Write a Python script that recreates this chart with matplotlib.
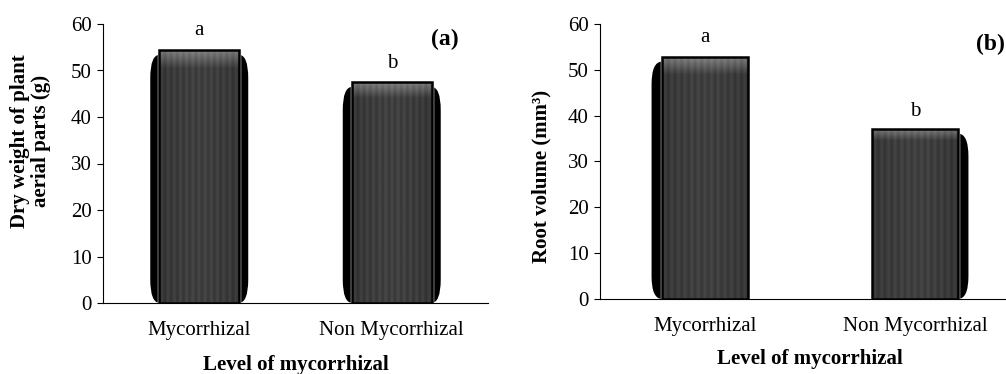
import matplotlib.pyplot as plt
import numpy as np
from matplotlib.patches import FancyBboxPatch

plt.rcParams['font.family'] = ['Liberation Serif', 'DejaVu Serif']

categories = ['Mycorrhizal', 'Non Mycorrhizal']
dry_weight = [54.4, 47.5]
root_volume = [52.8, 37.1]
letters = ['a', 'b']

# bar face: dark grey with a lighter band along the top
rows = np.linspace(0, 1, 200)
band = np.clip(1 - rows / 0.07, 0, 1)
cols = np.linspace(-1, 1, 60)
face = 0.25 + 0.25 * band[:, None] + 0.03 * np.cos(cols * 40)[None, :] - 0.04 * cols[None, :] ** 2


def draw_bars(ax, values, shadow_sides, width=0.41, sh=0.05):
    x = np.arange(len(values))
    for i, v in enumerate(values):
        left, right = shadow_sides[i]
        x0 = x[i] - width / 2 - (sh if left else 0)
        x1 = x[i] + width / 2 + (sh if right else 0)
        shadow = FancyBboxPatch((x0, 0), x1 - x0, v - 1.0,
                                boxstyle='round,pad=0,rounding_size=0.05',
                                mutation_aspect=100, fc='black', ec='none', zorder=2)
        ax.add_patch(shadow)
    bars = ax.bar(x, values, width=width, color='#444444', edgecolor='white', linewidth=2.5, zorder=3)
    for b in bars:
        im = ax.imshow(face, cmap='gray', vmin=0, vmax=1, aspect='auto', zorder=4,
                       extent=[b.get_x(), b.get_x() + b.get_width(), 0, b.get_height()])
        im.set_clip_path(b)
        ax.bar(b.get_x() + b.get_width() / 2, b.get_height(), width=b.get_width(),
               fill=False, edgecolor='black', linewidth=1.8, zorder=5)
    return x


def style(ax):
    ax.set_xlim(-0.5, 1.5)
    ax.set_ylim(0, 60)
    ax.set_yticks(range(0, 61, 10))
    ax.spines['top'].set_visible(False)
    ax.spines['right'].set_visible(False)
    ax.tick_params(axis='y', direction='out', length=4, labelsize=15, pad=4)
    ax.tick_params(axis='x', length=0, labelsize=15, pad=13)
    ax.set_xticks([0, 1])
    ax.set_xticklabels(categories)


fig = plt.figure(figsize=(10.06, 3.74), dpi=100)

ax1 = fig.add_axes([103 / 1006, 71 / 374, 385 / 1006, 279 / 374])
x = draw_bars(ax1, dry_weight, [(True, True), (True, True)], width=0.415, sh=0.047)
style(ax1)
ax1.set_ylabel('Dry weight of plant\naerial parts (g)', fontsize=15, fontweight='bold',
               linespacing=1.05)
ax1.yaxis.set_label_coords(-0.135, 0.58)
ax1.set_xlabel('Level of mycorrhizal', fontsize=15, fontweight='bold', labelpad=11)
ax1.text(0, 58.5, letters[0], ha='center', va='center', fontsize=15)
ax1.text(1, 51.5, letters[1], ha='center', va='center', fontsize=15)
ax1.text(0.925, 0.946, '(a)', transform=ax1.transAxes, ha='right', va='center', fontsize=17, fontweight='bold')

ax2 = fig.add_axes([600 / 1006, 75 / 374, 420 / 1006, 275 / 374])
draw_bars(ax2, root_volume, [(True, False), (False, True)], width=0.405, sh=0.052)
style(ax2)
ax2.set_ylabel('Root volume (mm³)', fontsize=15, fontweight='bold')
ax2.yaxis.set_label_coords(-0.115, 0.444)
ax2.set_xlabel('Level of mycorrhizal', fontsize=15, fontweight='bold', labelpad=9)
ax2.text(0, 57, letters[0], ha='center', va='center', fontsize=15)
ax2.text(1, 41, letters[1], ha='center', va='center', fontsize=15)
ax2.text(390 / 420, 0.924, '(b)', transform=ax2.transAxes, ha='center', va='center', fontsize=17, fontweight='bold')

fig.savefig('out.png', dpi=100)
